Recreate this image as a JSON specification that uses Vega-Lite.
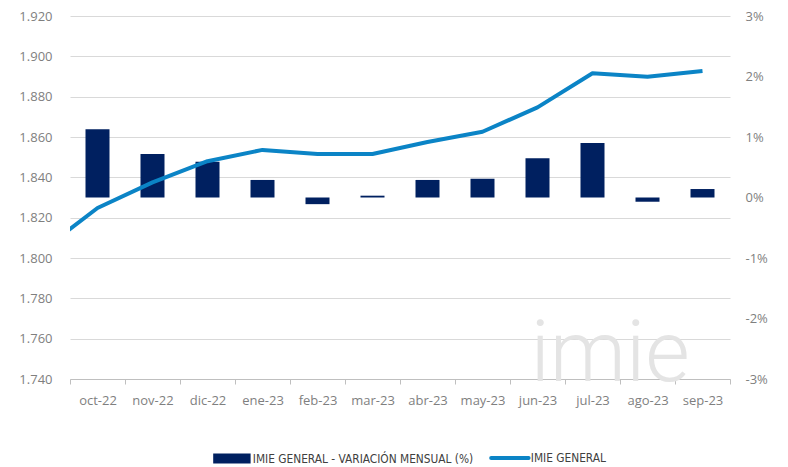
{
  "$schema": "https://vega.github.io/schema/vega-lite/v6.json",
  "width": 660,
  "height": 363,
  "autosize": "none",
  "padding": {"left": 70, "top": 16, "right": 58, "bottom": 88},
  "background": "white",
  "config": {
    "view": {"stroke": null},
    "axis": {"labelFont": "Open Sans", "labelFontSize": 13, "labelColor": "#7f7f7f", "gridColor": "#d9d9d9", "gridWidth": 1, "domainColor": "#bfbfbf", "tickColor": "#bfbfbf", "title": null}
  },
  "data": {
    "values": [
      {"month": "sep-22", "idx": -1, "var": null, "imie": 1804},
      {"month": "oct-22", "idx": 0, "var": 1.13, "imie": 1824.8},
      {"month": "nov-22", "idx": 1, "var": 0.72, "imie": 1837.5},
      {"month": "dic-22", "idx": 2, "var": 0.59, "imie": 1848},
      {"month": "ene-23", "idx": 3, "var": 0.29, "imie": 1853.6},
      {"month": "feb-23", "idx": 4, "var": -0.11, "imie": 1851.6},
      {"month": "mar-23", "idx": 5, "var": 0.03, "imie": 1851.6},
      {"month": "abr-23", "idx": 6, "var": 0.29, "imie": 1857.5},
      {"month": "may-23", "idx": 7, "var": 0.31, "imie": 1862.6},
      {"month": "jun-23", "idx": 8, "var": 0.65, "imie": 1874.7},
      {"month": "jul-23", "idx": 9, "var": 0.9, "imie": 1891.6},
      {"month": "ago-23", "idx": 10, "var": -0.07, "imie": 1889.9},
      {"month": "sep-23", "idx": 11, "var": 0.14, "imie": 1892.7}
    ]
  },
  "layer": [
    {
      "transform": [{"filter": "datum['var'] != null"}],
      "mark": {"type": "bar", "size": 24, "color": "#002060"},
      "encoding": {
        "x": {
          "field": "month", "type": "ordinal",
          "scale": {"domain": ["oct-22","nov-22","dic-22","ene-23","feb-23","mar-23","abr-23","may-23","jun-23","jul-23","ago-23","sep-23"], "paddingInner": 0, "paddingOuter": 0},
          "axis": {"labelAngle": 0, "tickBand": "extent", "tickSize": 5, "labelPadding": 10, "domain": true, "grid": false, "labelOverlap": false}
        },
        "y": {
          "field": "var", "type": "quantitative",
          "scale": {"domain": [-3, 3], "nice": false},
          "axis": {"orient": "right", "values": [-3,-2,-1,0,1,2,3], "labelExpr": "datum.value + '%'", "grid": false, "domain": false, "ticks": false, "labelPadding": 15}
        },
        "color": {
          "datum": "IMIE GENERAL - VARIACIÓN MENSUAL (%)",
          "scale": {"domain": ["IMIE GENERAL - VARIACIÓN MENSUAL (%)", "IMIE GENERAL"], "range": ["#002060", "#0b84c6"]},
          "legend": {
            "orient": "none", "legendX": 156, "legendY": 436, "direction": "horizontal", "title": null,
            "labelFont": "DejaVu Sans Condensed, Liberation Sans Narrow, sans-serif", "labelFontSize": 11.8, "labelColor": "#404040", "labelLimit": 0,
            "symbolSize": 1400, "columnPadding": 9, "labelOffset": 15,
            "encode": {"symbols": {"update": {
              "shape": {"signal": "datum.value === 'IMIE GENERAL' ? 'stroke' : 'M-1,-0.27H1V0.27H-1Z'"},
              "size": {"value": 1400},
              "strokeWidth": {"signal": "datum.value === 'IMIE GENERAL' ? 4 : 0"},
              "fill": {"signal": "datum.value === 'IMIE GENERAL' ? 'transparent' : '#002060'"},
              "stroke": {"signal": "datum.value === 'IMIE GENERAL' ? '#0b84c6' : 'transparent'"},
              "strokeCap": {"value": "round"},
              "opacity": {"value": 1}
            }}}
          }
        }
      }
    },
    {
      "layer": [
        {
          "data": {"values": [{"label": "imie"}]},
          "mark": {"type": "text", "font": "Roboto", "fontWeight": 300, "fontSize": 86, "color": "#e4e4e4", "align": "center", "baseline": "alphabetic"},
          "encoding": {
            "x": {"datum": 9.32, "type": "quantitative"},
            "y": {"datum": 1739, "type": "quantitative"},
            "text": {"field": "label"}
          }
        },
        {
          "mark": {"type": "line", "clip": true, "strokeWidth": 4, "color": "#0b84c6", "strokeJoin": "round"},
          "encoding": {
            "x": {"field": "idx", "type": "quantitative"},
            "y": {"field": "imie", "type": "quantitative"},
            "color": {"datum": "IMIE GENERAL"}
          }
        }
      ],
      "encoding": {
        "x": {"type": "quantitative", "scale": {"domain": [-0.5, 11.5], "nice": false, "zero": false}, "axis": null},
        "y": {"type": "quantitative", "scale": {"domain": [1740, 1920], "nice": false, "zero": false},
          "axis": {"orient": "left", "values": [1740,1760,1780,1800,1820,1840,1860,1880,1900,1920], "labelExpr": "replace(format(datum.value, ','), ',', '.')", "grid": true, "domain": false, "ticks": false, "labelPadding": 18}}
      }
    }
  ],
  "resolve": {"scale": {"x": "independent", "y": "independent"}}
}
